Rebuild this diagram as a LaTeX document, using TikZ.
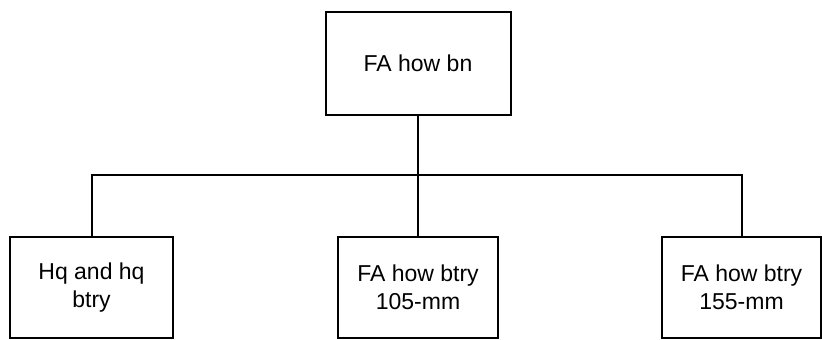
\documentclass[tikz,border=0pt]{standalone}
\usepackage{fontspec}
\setmainfont{Liberation Sans}
\usepackage{tikz}
\usetikzlibrary{positioning}

\begin{document}
\begin{tikzpicture}[x=1pt, y=1pt, line width=2pt,
          unit/.style={draw, rectangle, align=center, inner sep=0pt,
            font=\fontsize{23}{28}\selectfont}]
        \useasboundingbox (0,0) rectangle (822,-340);
        \node[unit, minimum width=185pt, minimum height=103pt] (bn) at (418,-63.5) {FA how bn};
        \node[unit, minimum width=163pt, minimum height=101pt] (hq) at (91.5,-287.5) {Hq and hq\\btry};
        \node[unit, minimum width=160pt, minimum height=101pt] (b105) at (418,-287.5) {FA how btry\\105-mm};
        \node[unit, minimum width=159pt, minimum height=101pt] (b155) at (741.5,-287.5) {FA how btry\\155-mm};
        \coordinate (bus) at (0,-175);
        \draw (bn.south) -- (bn.south |- bus);
        \draw (hq.north) -- (hq.north |- bus) -| (b155.north);
        \draw (b105.north) -- (b105.north |- bus);
      \end{tikzpicture}
\end{document}
